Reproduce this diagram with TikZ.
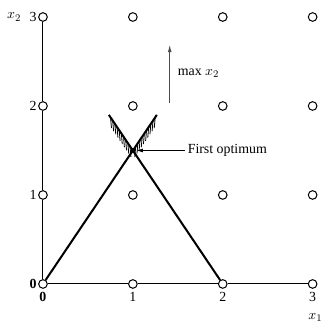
\documentclass[tikz,border=0pt]{standalone}
\usepackage{fontspec}
\setmainfont{Liberation Serif}
\usetikzlibrary{arrows.meta, calc}

\begin{document}
\begin{tikzpicture}[x=2.5cm, y=2.475cm, font=\fontsize{11}{13}\selectfont,
  latpt/.style={circle, draw, line width=0.8pt, fill=white, inner sep=0pt, minimum size=0.24cm},
  cons/.style={line width=1.6pt},
  hatch/.style={line width=0.65pt}]
\useasboundingbox (-0.478,-0.461) rectangle (3.1,3.191);

% Integer lattice points
\foreach \i in {0,...,3}
  \foreach \j in {0,...,3}
    \node[latpt] (p-\i-\j) at (\i,\j) {};

% Axes between the points
\draw[line width=0.8pt] (p-0-0) -- (p-1-0) -- (p-2-0) -- (p-3-0);
\draw[line width=0.8pt] (p-0-0) -- (p-0-1) -- (p-0-2) -- (p-0-3);

% Axis numbers
\foreach \j in {1,2,3}
  \node[left, inner sep=1pt] (ly-\j) at (p-0-\j.west) {\j};
\node[left, inner sep=1pt] (ly-0) at (p-0-0.west) {\textbf{0}};
\foreach \i in {1,2,3}
  \node[below, inner sep=2.5pt] (lx-\i) at (p-\i-0.south) {\i};
\node[below, inner sep=2.5pt] (lx-0) at (p-0-0.south) {\textbf{0}};
\node (xtwo) at (-0.32,3) {$x_2$};
\node (xone) at (3.03,-0.38) {$x_1$};

% Constraint lines crossing at the optimum
\coordinate (opt) at (1,1.5);
\coordinate (topr) at (1.267,1.9);
\coordinate (topl) at (0.733,1.9);
\draw[cons] (p-0-0) -- (topr);
\draw[cons] (p-2-0) -- (topl);
\fill (opt) circle (1.8pt);

% Hatching
\foreach \t in {0.12,0.21,...,1.0}
  \draw[hatch] ($(opt)!\t!(topl)$) -- ++(-85:0.12);
\foreach \t in {0.12,0.21,...,1.0}
  \draw[hatch] ($(opt)!\t!(topr)$) -- ++(265:0.12);

% First optimum label
\node[anchor=west, inner sep=2pt] (fopt) at (1.58,1.5) {First optimum};
\draw[-{Latex[length=5pt,width=3pt]}, line width=0.6pt, shorten >=0.1cm] (fopt.west) -- (opt);

% Objective direction
\coordinate (mx-a) at (1.41,2.03);
\coordinate (mx-b) at (1.41,2.69);
\draw[black!70, line width=0.8pt, -{Latex[length=6pt,width=3pt]}] (mx-a) -- (mx-b);
\node[anchor=west] (mx) at (1.45,2.37) {max $x_2$};

\end{tikzpicture}
\end{document}
